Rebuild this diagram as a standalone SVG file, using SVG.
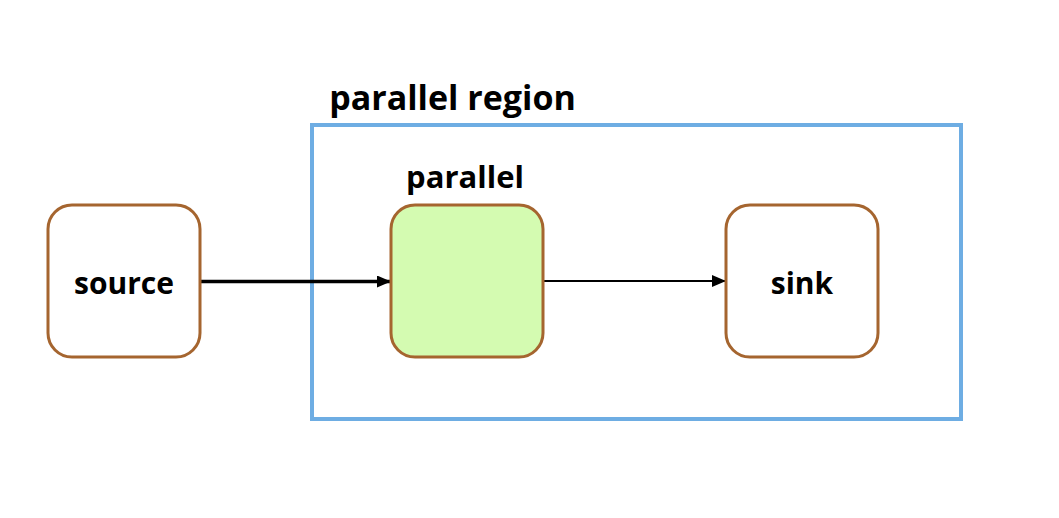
<svg xmlns="http://www.w3.org/2000/svg" width="1059" height="518" viewBox="0 0 1059 518">
<style>
.node{fill:#ffffff;stroke:#A5652F;stroke-width:3}
.green{fill:#D4FBB1}
.lbl{font-family:"Open Sans","Liberation Sans",sans-serif;font-weight:bold;fill:#000;text-anchor:middle}
.edge{stroke:#000;fill:none}
</style>
<defs>
<marker id="arr" markerWidth="14" markerHeight="12" refX="14" refY="6" orient="auto" markerUnits="userSpaceOnUse" viewBox="0 0 14 12">
<path d="M0,0 L14,6 L0,12 z" fill="#000"/>
</marker>
</defs>
<rect width="1059" height="518" fill="#fff"/>
<g id="region">
<rect x="312" y="125" width="649" height="294" fill="none" stroke="#6EADE3" stroke-width="4"/>
<text x="452.5" y="110" class="lbl" font-size="34">parallel region</text>
</g>
<g id="connectors">
<line x1="201" y1="281.5" x2="391" y2="281.5" class="edge" stroke-width="3.5" marker-end="url(#arr)"/>
<line x1="544" y1="281" x2="726" y2="281" class="edge" stroke-width="2.2" marker-end="url(#arr)"/>
</g>
<g id="source">
<rect x="48" y="205" width="152" height="152" rx="24" class="node"/>
<text x="124" y="294" class="lbl" font-size="30">source</text>
</g>
<g id="parallel">
<rect x="391" y="205" width="152" height="152" rx="24" class="node green"/>
<text x="465" y="188" class="lbl" font-size="31">parallel</text>
</g>
<g id="sink">
<rect x="726" y="205" width="152" height="152" rx="24" class="node"/>
<text x="802" y="294" class="lbl" font-size="30">sink</text>
</g>
</svg>
